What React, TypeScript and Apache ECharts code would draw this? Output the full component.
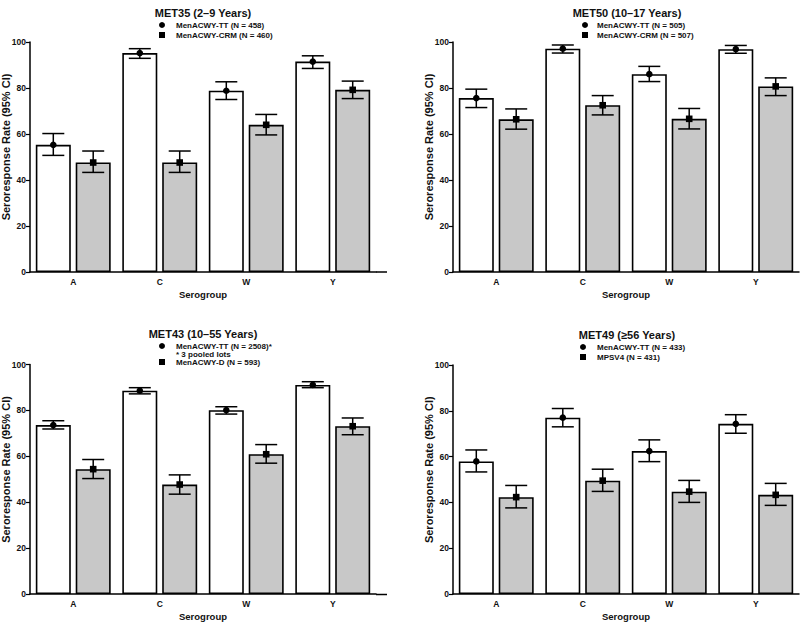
import React, { useEffect, useRef } from 'react';
import * as echarts from 'echarts';

const categories = ['A', 'C', 'W', 'Y'];
const yMin = 0;
const yMax = 100;
const yInterval = 20;

// MET35 (2–9 Years)
const met35TT = [55.3, 95.2, 78.8, 91.5];
const met35TTLo = [50.7, 92.9, 75.0, 88.5];
const met35TTHi = [60.2, 97.1, 82.7, 94.0];
const met35CRM = [47.6, 47.6, 64.0, 79.2];
const met35CRMLo = [43.3, 43.3, 59.6, 75.4];
const met35CRMHi = [52.6, 52.6, 68.5, 83.0];

// MET50 (10–17 Years)
const met50TT = [75.6, 97.1, 86.0, 96.9];
const met50TTLo = [71.5, 95.2, 82.8, 95.1];
const met50TTHi = [79.5, 98.7, 89.4, 98.5];
const met50CRM = [66.4, 72.5, 66.6, 80.7];
const met50CRMLo = [62.1, 68.3, 62.2, 76.7];
const met50CRMHi = [70.9, 76.7, 71.1, 84.4];

// MET43 (10–55 Years)
const met43TT = [73.6, 88.6, 80.1, 91.1];
const met43TTLo = [71.9, 87.2, 78.4, 89.9];
const met43TTHi = [75.5, 89.9, 81.6, 92.5];
const met43D = [54.4, 47.7, 60.9, 73.1];
const met43DLo = [50.3, 43.5, 57.0, 69.4];
const met43DHi = [58.6, 51.9, 65.1, 76.7];

// MET49 (≥56 Years)
const met49TT = [57.9, 77.0, 62.4, 74.3];
const met49TTLo = [53.3, 73.0, 57.8, 70.2];
const met49TTHi = [62.9, 81.0, 67.3, 78.3];
const met49MPSV = [42.3, 49.5, 44.7, 43.3];
const met49MPSVLo = [37.6, 44.8, 40.0, 38.7];
const met49MPSVHi = [47.4, 54.5, 49.6, 48.3];

const titles = ['MET35 (2–9 Years)', 'MET50 (10–17 Years)', 'MET43 (10–55 Years)', 'MET49 (≥56 Years)'];
const legendTT = ['MenACWY-TT (N = 458)', 'MenACWY-TT (N = 505)', 'MenACWY-TT (N = 2508)*', 'MenACWY-TT (N = 433)'];
const legendCmp = ['MenACWY-CRM (N = 460)', 'MenACWY-CRM (N = 507)', 'MenACWY-D (N = 593)', 'MPSV4 (N = 431)'];
const pooledNote = '* 3 pooled lots';
const yAxisName = 'Seroresponse Rate (95% CI)';
const xAxisName = 'Serogroup';

const FONT = "'Liberation Sans', Arial, Helvetica, sans-serif";
const BAR_W = 35;
const GAP_PCT = 14;
const OFFSET = (BAR_W + (BAR_W * GAP_PCT) / 100) / 2;
const GRAY = '#c8c8c8';

const panelData = [
  { tt: met35TT, ttLo: met35TTLo, ttHi: met35TTHi, c: met35CRM, cLo: met35CRMLo, cHi: met35CRMHi },
  { tt: met50TT, ttLo: met50TTLo, ttHi: met50TTHi, c: met50CRM, cLo: met50CRMLo, cHi: met50CRMHi },
  { tt: met43TT, ttLo: met43TTLo, ttHi: met43TTHi, c: met43D, cLo: met43DLo, cHi: met43DHi },
  { tt: met49TT, ttLo: met49TTLo, ttHi: met49TTHi, c: met49MPSV, cLo: met49MPSVLo, cHi: met49MPSVHi },
];

const grids = [
  { left: 30, top: 42, width: 346, height: 230 },
  { left: 453, top: 42, width: 346, height: 230 },
  { left: 30, top: 364.5, width: 346, height: 230 },
  { left: 453, top: 365, width: 346, height: 229.5 },
];

function errSeries(g: number, mean: number[], lo: number[], hi: number[], side: number, shape: string) {
  return {
    type: 'custom',
    xAxisIndex: g,
    yAxisIndex: g,
    z: 10,
    silent: true,
    data: mean.map((v, i) => [i, v, lo[i], hi[i]]),
    encode: { x: 0, y: [1, 2, 3] },
    renderItem: (params: any, api: any) => {
      const i = api.value(0);
      const c = api.coord([i, api.value(1)]);
      const l = api.coord([i, api.value(2)]);
      const h = api.coord([i, api.value(3)]);
      const x = c[0] + side * OFFSET;
      const cap = 11;
      const st = { stroke: '#000', lineWidth: 1.5 };
      const marker =
        shape === 'circle'
          ? { type: 'circle', shape: { cx: x, cy: c[1], r: 3.3 }, style: { fill: '#000' } }
          : { type: 'rect', shape: { x: x - 3.3, y: c[1] - 3.3, width: 6.6, height: 6.6 }, style: { fill: '#000' } };
      return {
        type: 'group',
        children: [
          { type: 'line', shape: { x1: x, y1: h[1], x2: x, y2: l[1] }, style: st },
          { type: 'line', shape: { x1: x - cap, y1: h[1], x2: x + cap, y2: h[1] }, style: st },
          { type: 'line', shape: { x1: x - cap, y1: l[1], x2: x + cap, y2: l[1] }, style: st },
          marker,
        ],
      };
    },
  };
}

function textEl(text: string, x: number, y: number, size: number, align = 'left', rotation = 0) {
  return {
    type: 'text',
    x,
    y,
    rotation,
    silent: true,
    style: {
      text,
      fill: '#111',
      fontSize: size,
      fontWeight: 'bold',
      fontFamily: FONT,
      align,
      verticalAlign: 'middle',
    },
  };
}

export default function App() {
  const ref = useRef<HTMLDivElement>(null);
  useEffect(() => {
    if (!ref.current) return;
    const chart = echarts.init(ref.current, undefined, { renderer: 'svg' });

    const xAxes = grids.map((_, g) => ({
      type: 'category',
      gridIndex: g,
      data: categories,
      name: xAxisName,
      nameLocation: 'middle',
      nameGap: 17,
      nameTextStyle: { fontSize: 9.5, fontWeight: 'bold', fontFamily: FONT, color: '#111' },
      axisLine: { show: true, lineStyle: { color: '#000', width: 1.5 } },
      axisTick: { show: false },
      axisLabel: { fontSize: 8.5, fontWeight: 'bold', fontFamily: FONT, color: '#111', margin: 5 },
      splitLine: { show: false },
    }));
    const yAxes = grids.map((_, g) => ({
      type: 'value',
      gridIndex: g,
      min: yMin,
      max: yMax,
      interval: yInterval,
      axisLine: { show: true, lineStyle: { color: '#000', width: 1.5 } },
      axisTick: { show: true, length: 4, lineStyle: { color: '#000', width: 1.2 } },
      axisLabel: { fontSize: 8.5, fontWeight: 'bold', fontFamily: FONT, color: '#111', margin: 4 },
      splitLine: { show: false },
    }));

    const series: any[] = [];
    panelData.forEach((p, g) => {
      series.push({
        type: 'bar',
        xAxisIndex: g,
        yAxisIndex: g,
        data: p.tt,
        barWidth: BAR_W,
        barGap: GAP_PCT + '%',
        silent: true,
        itemStyle: { color: '#fff', borderColor: '#000', borderWidth: 1.6 },
      });
      series.push({
        type: 'bar',
        xAxisIndex: g,
        yAxisIndex: g,
        data: p.c,
        barWidth: BAR_W,
        barGap: GAP_PCT + '%',
        silent: true,
        itemStyle: { color: GRAY, borderColor: '#000', borderWidth: 1.6 },
      });
      series.push(errSeries(g, p.tt, p.ttLo, p.ttHi, -1, 'circle'));
      series.push(errSeries(g, p.c, p.cLo, p.cHi, 1, 'square'));
    });

    const titlePos = [
      [203, 12.5],
      [627, 12.5],
      [203, 334],
      [627, 335],
    ];
    const legendPos = [
      { mx: 162, tx: 176, y1: 25, y2: 35 },
      { mx: 585, tx: 597, y1: 25, y2: 35 },
      { mx: 162, tx: 176, y1: 346, y2: 362, note: 354 },
      { mx: 583, tx: 597, y1: 347, y2: 357 },
    ];
    const graphics: any[] = [];
    titles.forEach((t, i) => {
      graphics.push(textEl(t, titlePos[i][0], titlePos[i][1], 11, 'center'));
      const L: any = legendPos[i];
      graphics.push({ type: 'circle', silent: true, shape: { cx: L.mx, cy: L.y1, r: 3 }, style: { fill: '#000' } });
      graphics.push(textEl(legendTT[i], L.tx, L.y1, 8));
      graphics.push({ type: 'rect', silent: true, shape: { x: L.mx - 3, y: L.y2 - 3, width: 6, height: 6 }, style: { fill: '#000' } });
      graphics.push(textEl(legendCmp[i], L.tx, L.y2, 8));
      if (L.note) graphics.push(textEl(pooledNote, L.tx, L.note, 8));
    });
    // y-axis titles (placed slightly above the axis middle, as in the original)
    grids.forEach((gr) => {
      graphics.push(
        textEl(yAxisName, gr.left - 24.5, gr.top + gr.height / 2 - 10, 11, 'center', Math.PI / 2)
      );
    });
    // axis line extension to the right on left panels
    [grids[0], grids[2]].forEach((gr) => {
      const y = gr.top + gr.height;
      graphics.push({
        type: 'line',
        silent: true,
        shape: { x1: gr.left + gr.width, y1: y, x2: gr.left + gr.width + 11, y2: y },
        style: { stroke: '#000', lineWidth: 1.5 },
      });
    });

    chart.setOption({
      animation: false,
      backgroundColor: '#fff',
      grid: grids.map((g) => ({ ...g, containLabel: false })),
      xAxis: xAxes,
      yAxis: yAxes,
      series,
      graphic: graphics,
    });
    return () => chart.dispose();
  }, []);
  return (
    <div
      ref={ref}
      style={{ position: 'fixed', left: 0, top: 0, width: 800, height: 622, background: '#fff' }}
    />
  );
}
